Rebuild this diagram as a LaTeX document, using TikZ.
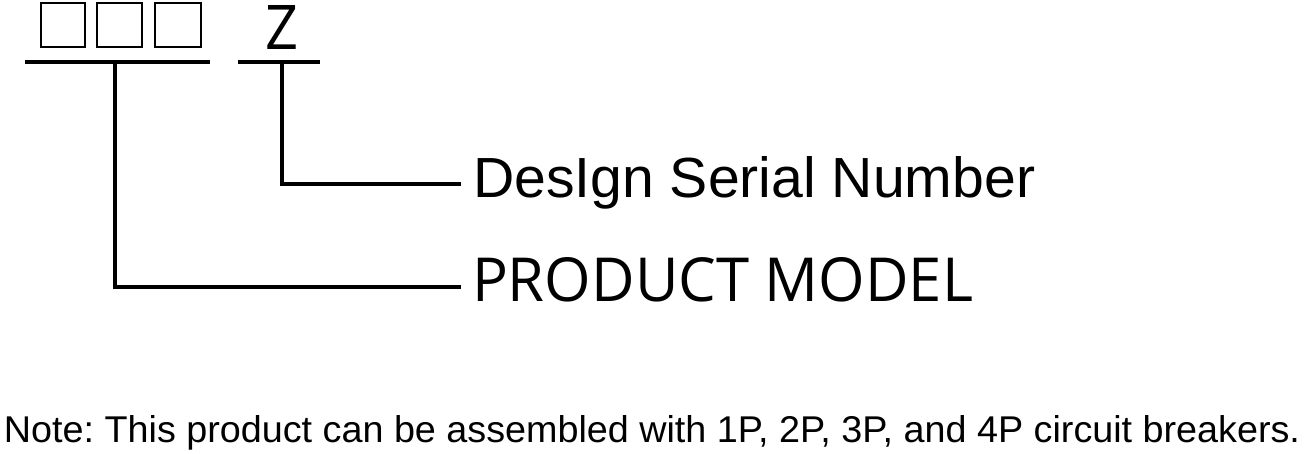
\documentclass[tikz,border=0pt]{standalone}
\usepackage{fontspec}
\usepackage{graphicx}
\setmainfont{Liberation Sans}
\newfontfamily\segoe{Open Sans}
\frenchspacing
\begin{document}
\begin{tikzpicture}[x=1pt,y=-1pt,
  boxcell/.style={draw=black,line width=1.8pt,minimum width=44pt,minimum height=44pt,inner sep=0pt},
  leader/.style={draw=black,line width=3.8pt},
  lbl/.style={anchor=base west,inner sep=0pt,outer sep=0pt}]
\useasboundingbox (0,0) rectangle (1304,454);
% code boxes
\node[boxcell] (b1) at (63,25) {};
\node[boxcell,minimum width=45pt] (b2) at (119.5,25) {};
\node[boxcell,minimum width=46pt] (b3) at (178,25) {};
\node[lbl] (z) at (265,50) {\resizebox{33pt}{44pt}{\segoe Z}};
% underlines
\coordinate (u1l) at (25,62);
\coordinate (u1r) at (210,62);
\coordinate (u2l) at (238,62);
\coordinate (u2r) at (320,62);
\coordinate (t1) at (115,62);
\coordinate (t2) at (282,62);
% labels
\node[lbl] (dsn) at (473,198) {\resizebox{562pt}{41pt}{DesIgn Serial Number}};
\node[lbl] (pm) at (472,302) {\resizebox{501pt}{44pt}{\segoe PRODUCT MODEL}};
\coordinate (e1) at (461,184);
\coordinate (e2) at (461,287);
\draw[leader] (u1l) -- (u1r);
\draw[leader] (u2l) -- (u2r);
\draw[leader] (t2) |- (e1);
\draw[leader] (t1) |- (e2);
% note
\node[lbl] (note) at (4,442) {\resizebox{1296pt}{27pt}{Note: This product can be assembled with 1P, 2P, 3P, and 4P circuit breakers.}};
\end{tikzpicture}
\end{document}
